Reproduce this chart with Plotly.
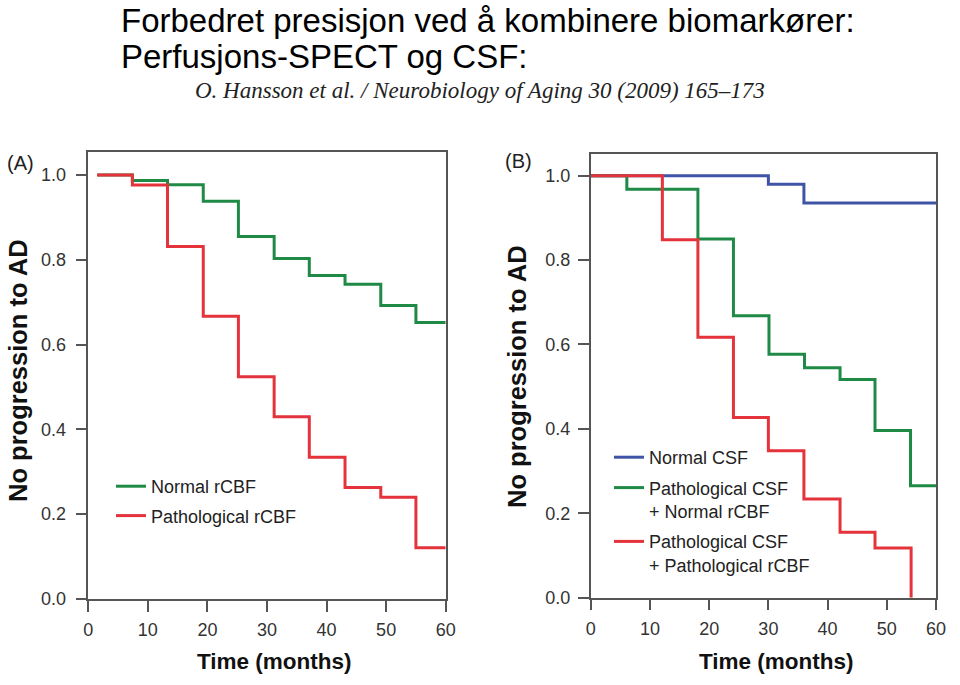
import plotly.graph_objects as go

# ---------------- data ----------------
# Panel A: rCBF (perfusion SPECT)
time_a_normal = [1.5, 7.4, 13.3, 19.3, 25.2, 31.2, 37.1, 43.1, 49.1, 55.0, 60.0]
surv_a_normal = [1.0, 0.987, 0.977, 0.938, 0.855, 0.803, 0.763, 0.742, 0.692, 0.652, 0.652]
time_a_path = [1.5, 7.4, 13.3, 19.3, 25.2, 31.2, 37.1, 43.1, 49.1, 55.0, 60.0]
surv_a_path = [1.0, 0.976, 0.831, 0.667, 0.524, 0.430, 0.334, 0.263, 0.240, 0.121, 0.121]

# Panel B: CSF combined with rCBF
time_b_normal_csf = [0.0, 30.0, 36.0, 58.3]
surv_b_normal_csf = [1.0, 0.980, 0.935, 0.935]
time_b_path_norm = [0.0, 6.1, 18.1, 24.1, 30.1, 36.1, 42.1, 48.0, 54.0, 58.3]
surv_b_path_norm = [1.0, 0.968, 0.850, 0.668, 0.577, 0.545, 0.517, 0.396, 0.265, 0.265]
time_b_path_path = [0.0, 12.1, 18.1, 24.1, 30.0, 36.0, 42.1, 48.0, 54.1]
surv_b_path_path = [1.0, 0.848, 0.617, 0.427, 0.348, 0.234, 0.155, 0.118, 0.0]

names_a = ["Normal rCBF", "Pathological rCBF"]
names_b = ["Normal CSF", "Pathological CSF<br>+ Normal rCBF", "Pathological CSF<br>+ Pathological rCBF"]

x_tickvals_a = [0, 10, 20, 30, 40, 50, 60]
x_tickvals_b = [0, 10, 20, 30, 40, 50, 58.3]
x_ticktext = ["0", "10", "20", "30", "40", "50", "60"]
y_tickvals = [0.0, 0.2, 0.4, 0.6, 0.8, 1.0]

title_line1 = "Forbedret presisjon ved å kombinere biomarkører:"
title_line2 = "Perfusjons-SPECT og CSF:"
citation = "O. Hansson et al. / Neurobiology of Aging 30 (2009) 165–173"

# ---------------- style ----------------
GREEN = "#1f8a45"
RED = "#e4333b"
BLUE = "#3f54a6"
AX = "#555555"
SANS = "Liberation Sans, Arial, sans-serif"
SERIF = "Liberation Serif, Times New Roman, serif"
W, H = 960, 685


def px(xp):
    return xp / W


def py(yp):
    return 1 - yp / H


fig = go.Figure()

# Panel A
fig.add_trace(go.Scatter(x=time_a_normal, y=surv_a_normal, mode="lines", line_shape="hv",
                         line=dict(color=GREEN, width=3), name=names_a[0],
                         xaxis="x", yaxis="y", legend="legend", legendgroup="a1"))
fig.add_trace(go.Scatter(x=time_a_path, y=surv_a_path, mode="lines", line_shape="hv",
                         line=dict(color=RED, width=3), name=names_a[1],
                         xaxis="x", yaxis="y", legend="legend", legendgroup="a2"))
# Panel B
fig.add_trace(go.Scatter(x=time_b_normal_csf, y=surv_b_normal_csf, mode="lines", line_shape="hv",
                         line=dict(color=BLUE, width=3), name=names_b[0],
                         xaxis="x2", yaxis="y2", legend="legend2", legendgroup="b1"))
fig.add_trace(go.Scatter(x=time_b_path_norm, y=surv_b_path_norm, mode="lines", line_shape="hv",
                         line=dict(color=GREEN, width=3), name=names_b[1],
                         xaxis="x2", yaxis="y2", legend="legend2", legendgroup="b2"))
fig.add_trace(go.Scatter(x=time_b_path_path, y=surv_b_path_path, mode="lines", line_shape="hv",
                         line=dict(color=RED, width=3), name=names_b[2],
                         xaxis="x2", yaxis="y2", legend="legend2", legendgroup="b3"))

axis_common = dict(showline=True, linecolor=AX, linewidth=1.5, mirror=True,
                   ticks="outside", ticklen=11, tickwidth=1.5, tickcolor=AX,
                   showgrid=False, zeroline=False,
                   tickfont=dict(family=SANS, size=18, color="#333333"),
                   automargin=False)

legend_common = dict(font=dict(family=SANS, size=18, color="#222222"),
                     bgcolor="rgba(0,0,0,0)", borderwidth=0,
                     xanchor="left", yanchor="top",
                     valign="top", itemclick=False)

fig.update_layout(
    width=W, height=H,
    margin=dict(l=0, r=0, t=0, b=0),
    paper_bgcolor="white", plot_bgcolor="white",
    xaxis=dict(domain=[px(88.3), px(445.7)], range=[0, 60], anchor="y",
               tickvals=x_tickvals_a, ticktext=x_ticktext, ticklabelstandoff=3, **axis_common),
    yaxis=dict(domain=[py(599), py(152)], range=[0, 1.054], anchor="x",
               tickvals=y_tickvals, tickformat=".1f", ticklabelstandoff=6, **axis_common),
    xaxis2=dict(domain=[px(590.7), px(936)], range=[0, 58.3], anchor="y2",
                tickvals=x_tickvals_b, ticktext=x_ticktext, ticklabelstandoff=3, **axis_common),
    yaxis2=dict(domain=[py(597.7), py(154)], range=[0, 1.0514], anchor="x2",
                tickvals=y_tickvals, tickformat=".1f", ticklabelstandoff=4, **axis_common),
    legend=dict(x=px(111), y=py(468), tracegroupgap=3, **legend_common),
    legend2=dict(x=px(609), y=py(439), tracegroupgap=4, **legend_common),
    showlegend=True,
)

annos = [
    dict(text=title_line1, x=px(119), y=1.0, xanchor="left", yanchor="top",
         font=dict(family=SANS, size=33, color="black")),
    dict(text=title_line2, x=px(119), y=py(57), xanchor="left", yanchor="middle",
         font=dict(family=SANS, size=33, color="black")),
    dict(text="<i>" + citation + "</i>", x=px(480), y=py(90), xanchor="center", yanchor="middle",
         font=dict(family=SERIF, size=23, color="#222222")),
    dict(text="(A)", x=px(20), y=py(163), xanchor="center", yanchor="middle",
         font=dict(family=SANS, size=20, color="#222222")),
    dict(text="(B)", x=px(518), y=py(161), xanchor="center", yanchor="middle",
         font=dict(family=SANS, size=20, color="#222222")),
    dict(text="<b>No progression to AD</b>", x=px(18), y=py(371), textangle=-90,
         xanchor="center", yanchor="middle", font=dict(family=SANS, size=25.5, color="#111111")),
    dict(text="<b>No progression to AD</b>", x=px(517), y=py(377), textangle=-90,
         xanchor="center", yanchor="middle", font=dict(family=SANS, size=25.5, color="#111111")),
    dict(text="<b>Time (months)</b>", x=px(274), y=py(661), xanchor="center", yanchor="middle",
         font=dict(family=SANS, size=22.5, color="#111111")),
    dict(text="<b>Time (months)</b>", x=px(776), y=py(661), xanchor="center", yanchor="middle",
         font=dict(family=SANS, size=22.5, color="#111111")),
]
for a in annos:
    a.update(xref="paper", yref="paper", showarrow=False)
fig.update_layout(annotations=annos)

fig.write_html("out.html", config={"displayModeBar": False},
               post_script="document.body.style.margin='0';document.body.style.overflow='hidden';")
